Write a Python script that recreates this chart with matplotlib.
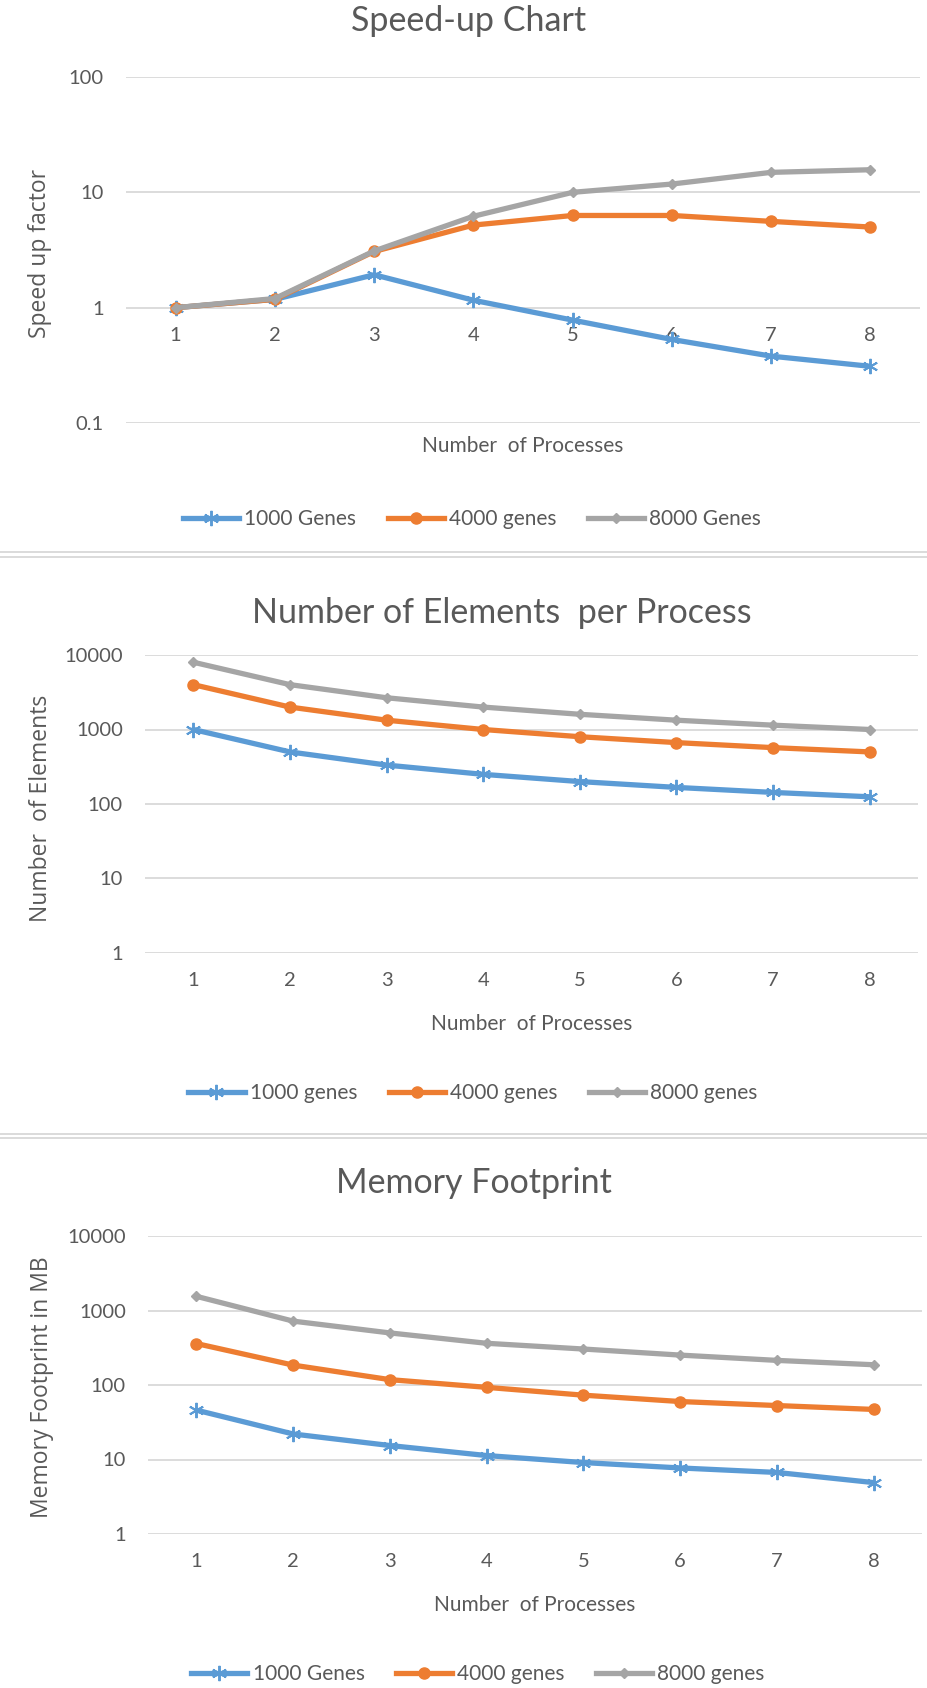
import matplotlib
matplotlib.use("Agg")
import matplotlib.pyplot as plt
from matplotlib.lines import Line2D
from matplotlib.ticker import FixedLocator, NullLocator, FuncFormatter

plt.rcParams['font.family'] = ['Lato', 'DejaVu Sans']

# ---- data ------------------------------
procs = [1, 2, 3, 4, 5, 6, 7, 8]

speedup_1000 = [1.0, 1.18, 1.93, 1.16, 0.78, 0.53, 0.38, 0.31]
speedup_4000 = [1.0, 1.18, 3.07, 5.2, 6.3, 6.3, 5.6, 5.0]
speedup_8000 = [1.0, 1.2, 3.1, 6.2, 10.0, 11.8, 14.9, 15.7]

elements_1000 = [1000, 500, 333, 250, 200, 167, 143, 125]
elements_4000 = [4000, 2000, 1333, 1000, 800, 667, 571, 500]
elements_8000 = [8000, 4000, 2667, 2000, 1600, 1333, 1143, 1000]

memory_1000 = [46, 22, 15.4, 11.3, 9.1, 7.7, 6.7, 4.9]
memory_4000 = [360, 185, 118, 93, 73, 60, 53, 47]
memory_8000 = [1550, 720, 500, 363, 304, 252, 214, 187]

speedup_labels = ["1000 Genes", "4000 genes", "8000 Genes"]
elements_labels = ["1000 genes", "4000 genes", "8000 genes"]
memory_labels = ["1000 Genes", "4000 genes", "8000 genes"]

# ---- style ------------------------------
W, H = 928, 1688
TXT = '#595959'
GRID = '#D9D9D9'
COLORS = ['#5B9BD5', '#ED7D31', '#A5A5A5']
MARKERS = [dict(marker=(6, 2, 0), markersize=11, markeredgewidth=1.4),
           dict(marker='o', markersize=8),
           dict(marker='D', markersize=5.5)]
LW = 3.8

fig = plt.figure(figsize=(W / 100, H / 100), dpi=100)


def fx(x):
    return x / W


def fy(y):
    return 1 - y / H


def draw_chart(box, title, title_pos, ylabel, ylabel_pos, xlabel_y, legend_pos,
               series, labels, ylim, yticks, axis_at):
    left, top, right, bottom = box
    ax = fig.add_axes([fx(left), fy(bottom), (right - left) / W, (bottom - top) / H])
    for vals, col, mk, lab in zip(series, COLORS, MARKERS, labels):
        ax.plot(procs, vals, color=col, lw=LW, markerfacecolor=col,
                markeredgecolor=col, label=lab, solid_capstyle='round', **mk)
    ax.set_yscale('log')
    ax.set_ylim(*ylim)
    ax.set_xlim(0.5, 8.5)
    ax.yaxis.set_major_locator(FixedLocator(yticks))
    ax.yaxis.set_minor_locator(NullLocator())
    ax.yaxis.set_major_formatter(FuncFormatter(lambda v, p: '%g' % v))
    ax.set_xticks(procs)
    ax.grid(axis='y', color=GRID, lw=1.3)
    ax.set_axisbelow(True)
    for s in ax.spines.values():
        s.set_visible(False)
    # x axis crosses the log scale at 1, like the spreadsheet default
    ax.spines['bottom'].set_position(('data', axis_at))
    ax.tick_params(axis='both', length=0, labelsize=14.5, labelcolor=TXT)
    ax.tick_params(axis='y', pad=16)
    ax.tick_params(axis='x', pad=14)

    fig.text(fx(title_pos[0]), fy(title_pos[1]), title, ha='center', va='center',
             fontsize=24.5, color=TXT)
    fig.text(fx(ylabel_pos[0]), fy(ylabel_pos[1]), ylabel, ha='center', va='center',
             rotation=90, fontsize=16.5, color=TXT, family=['Open Sans', 'DejaVu Sans'])
    fig.text(fx((left + right) / 2), fy(xlabel_y), "Number  of Processes",
             ha='center', va='center', fontsize=15, color=TXT)

    handles = [Line2D([], [], color=c, lw=LW, markerfacecolor=c, markeredgecolor=c, **m)
               for c, m in zip(COLORS, MARKERS)]
    fig.legend(handles, labels, loc='center', ncol=3, frameon=False,
               bbox_to_anchor=(fx(legend_pos[0]), fy(legend_pos[1])),
               fontsize=15, labelcolor=TXT, handlelength=2.7, handletextpad=0.25,
               columnspacing=1.5, numpoints=1)
    return ax


draw_chart((126, 77, 920, 423), "Speed-up Chart", (469, 21),
           "Speed up factor", (40, 253), 446, (472, 519),
           [speedup_1000, speedup_4000, speedup_8000], speedup_labels,
           (0.1, 100), [0.1, 1, 10, 100], 1)

draw_chart((145, 655, 918, 953), "Number of Elements  per Process", (502, 613),
           "Number  of Elements", (41, 808), 1024, (473, 1093),
           [elements_1000, elements_4000, elements_8000], elements_labels,
           (1, 10000), [1, 10, 100, 1000, 10000], 1)

draw_chart((148, 1236, 922, 1534), "Memory Footprint", (474, 1183),
           "Memory Footprint in MB", (42, 1387), 1605, (478, 1674),
           [memory_1000, memory_4000, memory_8000], memory_labels,
           (1, 10000), [1, 10, 100, 1000, 10000], 1)

# chart borders between the stacked panels
for y in (552, 557, 1134, 1138):
    fig.add_artist(Line2D([0, 1], [fy(y), fy(y)], color='#D4D4D4', lw=1.2))

fig.savefig('out.png', dpi=100, facecolor='white')
